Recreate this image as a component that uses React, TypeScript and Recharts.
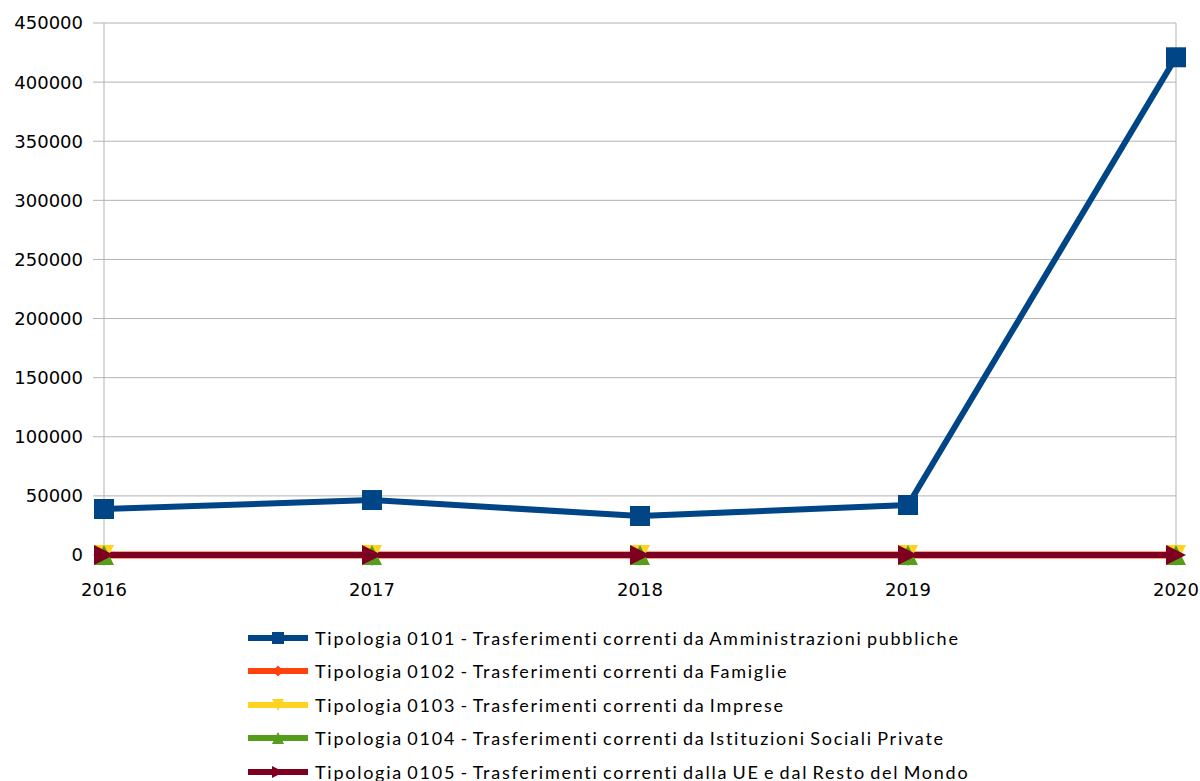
import React from 'react';
import { LineChart, Line, XAxis, YAxis, CartesianGrid, ReferenceLine } from 'recharts';

const years = ['2016', '2017', '2018', '2019', '2020'];
const tip0101 = [38900, 46500, 33000, 42300, 421000];
const tip0102 = [0, 0, 0, 0, 0];
const tip0103 = [0, 0, 0, 0, 0];
const tip0104 = [0, 0, 0, 0, 0];
const tip0105 = [0, 0, 0, 0, 0];
const yTicks = [0, 50000, 100000, 150000, 200000, 250000, 300000, 350000, 400000, 450000];

type Shape = 'square' | 'diamond' | 'down' | 'up' | 'right';

const seriesList: { key: string; name: string; color: string; shape: Shape; width: number; values: number[] }[] = [
  { key: 's1', name: 'Tipologia 0101 - Trasferimenti correnti da Amministrazioni pubbliche', color: '#004586', shape: 'square', width: 6, values: tip0101 },
  { key: 's2', name: 'Tipologia 0102 - Trasferimenti correnti da Famiglie', color: '#ff420e', shape: 'diamond', width: 7, values: tip0102 },
  { key: 's3', name: 'Tipologia 0103 - Trasferimenti correnti da Imprese', color: '#ffd320', shape: 'down', width: 6, values: tip0103 },
  { key: 's4', name: 'Tipologia 0104 - Trasferimenti correnti da Istituzioni Sociali Private', color: '#579d1c', shape: 'up', width: 6, values: tip0104 },
  { key: 's5', name: 'Tipologia 0105 - Trasferimenti correnti dalla UE e dal Resto del Mondo', color: '#7e0021', shape: 'right', width: 6, values: tip0105 },
];

const data = years.map((y, i) => {
  const row: Record<string, any> = { year: y };
  seriesList.forEach(s => { row[s.key] = s.values[i]; });
  return row;
});

const Marker = ({ cx, cy, shape, color, r = 10 }: { cx: number; cy: number; shape: Shape; color: string; r?: number }) => {
  if (cx == null || cy == null) return null;
  switch (shape) {
    case 'square':
      return <rect x={cx - r} y={cy - r} width={r * 2} height={r * 2} fill={color} />;
    case 'diamond':
      return <polygon points={`${cx},${cy - r * 0.7} ${cx + r * 0.7},${cy} ${cx},${cy + r * 0.7} ${cx - r * 0.7},${cy}`} fill={color} />;
    case 'down':
      return <polygon points={`${cx - r},${cy - r} ${cx + r},${cy - r} ${cx},${cy + r}`} fill={color} />;
    case 'up':
      return <polygon points={`${cx - r},${cy + r} ${cx + r},${cy + r} ${cx},${cy - r}`} fill={color} />;
    default:
      return <polygon points={`${cx - r},${cy - r} ${cx + r},${cy} ${cx - r},${cy + r}`} fill={color} />;
  }
};

const App: React.FC = () => {
  const tickStyle = { fontSize: 18, fill: '#000', fontFamily: 'DejaVu Sans' };
  return (
    <div style={{ position: 'absolute', left: 0, top: 0, width: 1200, height: 781, background: '#fff' }}>
      <LineChart width={1200} height={781} data={data} margin={{ top: 23, right: 24, bottom: 186, left: 0 }}>
        <CartesianGrid vertical={false} stroke="#b3b3b3" strokeWidth={1} />
        <XAxis
          dataKey="year"
          stroke="#b3b3b3"
          axisLine={false}
          tick={tickStyle}
          tickSize={11}
          tickMargin={17}
          height={40}
        />
        <YAxis
          domain={[0, 450000]}
          ticks={yTicks}
          stroke="#b3b3b3"
          tick={tickStyle}
          tickSize={11}
          tickMargin={10}
          width={104}
          interval={0}
        />
        <ReferenceLine x="2020" stroke="#b3b3b3" />
        {seriesList.map(s => (
          <Line
            key={s.key}
            dataKey={s.key}
            name={s.name}
            stroke={s.color}
            strokeWidth={s.width}
            type="linear"
            isAnimationActive={false}
            activeDot={false}
            dot={(p: any) => <Marker key={`${s.key}-${p.index}`} cx={p.cx} cy={p.cy} shape={s.shape} color={s.color} />}
          />
        ))}
      </LineChart>
      <div style={{ position: 'absolute', left: 248, top: 621, fontFamily: 'Lato', fontSize: 18, letterSpacing: 1.75, wordSpacing: -2, color: '#000' }}>
        {seriesList.map(s => (
          <div key={s.key} style={{ display: 'flex', alignItems: 'center', height: 33.5 }}>
            <svg width={60} height={20} style={{ marginRight: 7 }}>
              <line x1={0} y1={10} x2={60} y2={10} stroke={s.color} strokeWidth={6} />
              <Marker cx={30} cy={10} shape={s.shape} color={s.color} r={s.shape === 'diamond' ? 8 : 6} />
            </svg>
            <span>{s.name}</span>
          </div>
        ))}
      </div>
    </div>
  );
};

export default App;
